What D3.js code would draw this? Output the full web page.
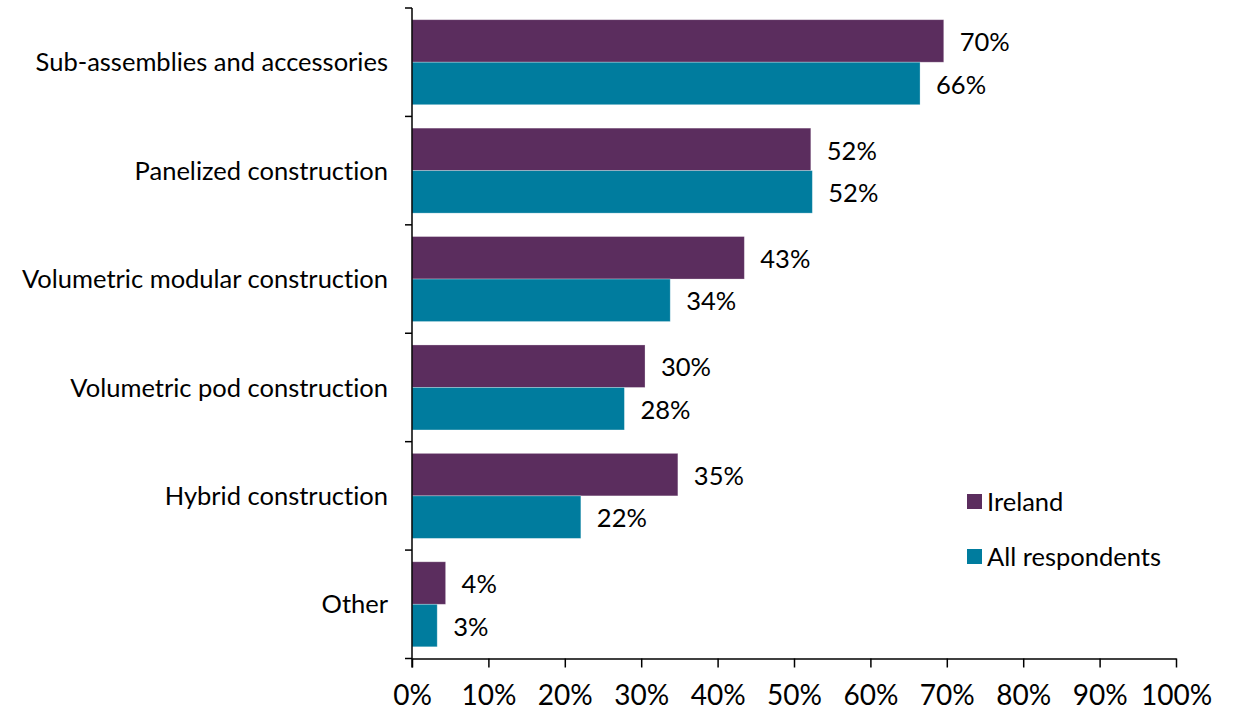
<!DOCTYPE html>
<html>
<head>
<meta charset="utf-8">
<script src="https://cdn.jsdelivr.net/npm/d3@7"></script>
<style>
  html, body { margin: 0; padding: 0; background: #fff; }
  svg { display: block; }
  text { font-family: Lato, "Open Sans", sans-serif; fill: #000; font-variant-ligatures: none; font-feature-settings: "liga" 0, "clig" 0; }
</style>
</head>
<body>
<svg id="chart" width="1243" height="711"></svg>
<script>
const categories = [
  "Sub-assemblies and accessories",
  "Panelized construction",
  "Volumetric modular construction",
  "Volumetric pod construction",
  "Hybrid construction",
  "Other"
];
const seriesNames = ["Ireland", "All respondents"];
const irelandValues = [69.6, 52.2, 43.5, 30.5, 34.8, 4.4];
const allValues = [66.5, 52.4, 33.8, 27.8, 22.1, 3.3];
const irelandLabels = ["70%", "52%", "43%", "30%", "35%", "4%"];
const allLabels = ["66%", "52%", "34%", "28%", "22%", "3%"];
const xTicks = [0, 10, 20, 30, 40, 50, 60, 70, 80, 90, 100];

const colors = { "Ireland": "#5B2D5E", "All respondents": "#007C9E" };

(function () {
const svg = d3.select("#chart");
const pL = 412, pR = 1176, pT = 8, pB = 658.5;
const fs = "25.5px";

const x = d3.scaleLinear().domain([0, 100]).range([pL, pR]);
const y = d3.scaleBand().domain(categories).range([pT, pB])
  .paddingInner(0.216).paddingOuter(0.108);
const ySub = d3.scaleBand().domain(seriesNames).range([0, y.bandwidth()]);

const rows = categories.map((c, i) => ({
  cat: c,
  vals: [
    { s: "Ireland", v: irelandValues[i], label: irelandLabels[i] },
    { s: "All respondents", v: allValues[i], label: allLabels[i] }
  ]
}));

// bars
const g = svg.append("g");
const groups = g.selectAll("g.cat").data(rows).join("g")
  .attr("transform", d => `translate(0,${y(d.cat)})`);
groups.selectAll("rect").data(d => d.vals).join("rect")
  .attr("x", x(0))
  .attr("y", d => ySub(d.s))
  .attr("width", d => x(d.v) - x(0))
  .attr("height", ySub.bandwidth())
  .attr("fill", d => colors[d.s])
  .attr("stroke", "rgba(255,255,255,0.35)")
  .attr("stroke-width", 0.8);
groups.selectAll("text").data(d => d.vals).join("text")
  .attr("x", d => x(d.v) + 16)
  .attr("y", d => ySub(d.s) + ySub.bandwidth() / 2)
  .attr("dy", "0.4em")
  .style("font-size", fs)
  .text(d => d.label);

// y axis
const step = y.step();
const boundaries = d3.range(categories.length + 1).map(i => pT + i * step);
svg.append("line")
  .attr("x1", pL).attr("x2", pL)
  .attr("y1", pT).attr("y2", pB + 9)
  .attr("stroke", "#000").attr("stroke-width", 1.5);
svg.selectAll("line.ytick").data(boundaries).join("line")
  .attr("class", "ytick")
  .attr("x1", pL - 7).attr("x2", pL)
  .attr("y1", d => d).attr("y2", d => d)
  .attr("stroke", "#000").attr("stroke-width", 1.5);
svg.selectAll("text.ylab").data(categories).join("text")
  .attr("class", "ylab")
  .attr("x", 388)
  .attr("y", d => y(d) + y.bandwidth() / 2)
  .attr("dy", "0.36em")
  .attr("text-anchor", "end")
  .style("font-size", fs)
  .text(d => d);

// x axis
const xAxis = d3.axisBottom(x).tickValues(xTicks).tickFormat(d => d + "%")
  .tickSize(9).tickPadding(18).tickSizeOuter(0);
const xg = svg.append("g").attr("transform", `translate(0,${pB})`).call(xAxis);
xg.select(".domain").attr("stroke", "#000").attr("stroke-width", 1.5);
xg.selectAll(".tick line").attr("stroke", "#000").attr("stroke-width", 1.5);
xg.selectAll(".tick text").style("font-family", "Lato, sans-serif").style("font-size", "28px").attr("fill", "#000");

// legend
const legend = svg.append("g");
const legY = [501.5, 556.5];
seriesNames.forEach((s, i) => {
  legend.append("rect")
    .attr("x", 967).attr("y", legY[i] - 7.5)
    .attr("width", 15).attr("height", 15)
    .attr("fill", colors[s]);
  legend.append("text")
    .attr("x", 987).attr("y", legY[i])
    .attr("dy", "0.36em")
    .style("font-size", fs)
    .text(s);
});
})();
</script>
</body>
</html>
